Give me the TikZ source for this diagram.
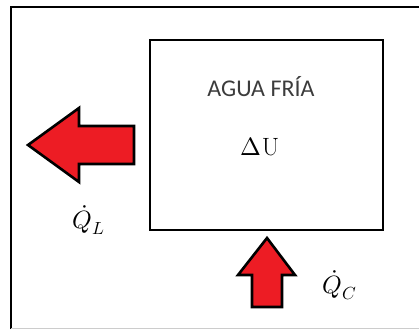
\documentclass[tikz,border=0pt]{standalone}
\usepackage{fontspec}
\usepackage{unicode-math}
\setmathfont{Latin Modern Math}
\newfontfamily\calib{Carlito}
\definecolor{arrred}{HTML}{ED1C24}
\definecolor{txtgray}{HTML}{3C3C3C}
\newcommand{\bigmath}{\fontsize{25}{30}\selectfont}
\begin{document}
\begin{tikzpicture}[x=1pt,y=-1pt,
  bigarrow/.style={draw=black,line width=2.6pt,fill=arrred,line join=miter},
  boxstyle/.style={draw=black,line width=2.6pt},
  mathlbl/.style={inner sep=0pt}]
\useasboundingbox (0,0) rectangle (419,329);
% outer frame
\draw[line width=2pt] (11,329) -- (11,7) -- (419,7);
\draw[line width=1pt,gray!40] (11,328.5) -- (419,328.5);
% box
\draw[boxstyle] (150,40) rectangle (383,230);
\node[font=\calib\fontsize{24}{28}\selectfont,text=txtgray] (title) at (261,87) {AGUA FRÍA};
\node[mathlbl] (du) at (260,147) {\bigmath$\upDelta\mathrm{U}$};
% left arrow
\draw[bigarrow] (28,145) -- (79,108) -- (79,126) -- (134,126) -- (134,164) -- (79,164) -- (79,182) -- cycle;
% up arrow
\draw[bigarrow] (267,238) -- (295,275) -- (282,275) -- (282,307) -- (252,307) -- (252,275) -- (238,275) -- cycle;
\node[mathlbl] (ql) at (89,220) {\bigmath$\dot{Q}_L$};
\node[mathlbl] (qc) at (340,285) {\bigmath$\dot{Q}_C$};
\end{tikzpicture}
\end{document}
